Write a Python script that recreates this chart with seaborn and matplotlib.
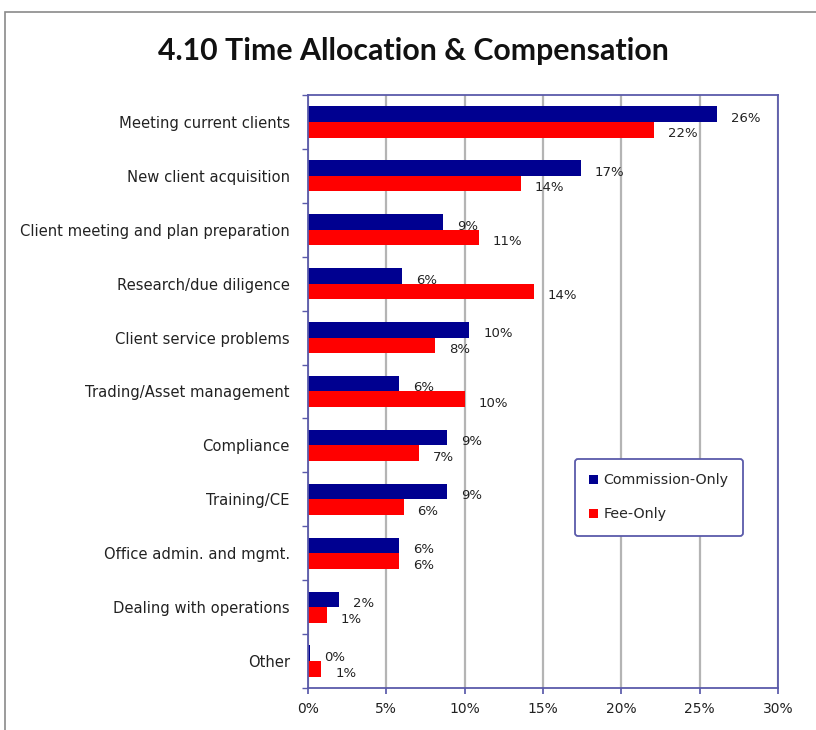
import numpy as np
import pandas as pd
import matplotlib
matplotlib.use("Agg")
import matplotlib.pyplot as plt
import seaborn as sns
from matplotlib.patches import Rectangle
from matplotlib.ticker import FixedLocator, PercentFormatter

# ── данные ──
categories = [
    "Meeting current clients",
    "New client acquisition",
    "Client meeting and plan preparation",
    "Research/due diligence",
    "Client service problems",
    "Trading/Asset management",
    "Compliance",
    "Training/CE",
    "Office admin. and mgmt.",
    "Dealing with operations",
    "Other",
]
commission_only = [26.1, 17.4, 8.6, 6.0, 10.3, 5.8, 8.9, 8.9, 5.8, 2.0, 0.15]
fee_only = [22.1, 13.6, 10.9, 14.4, 8.1, 10.0, 7.1, 6.1, 5.8, 1.2, 0.85]
series_names = ["Commission-Only", "Fee-Only"]
x_ticks = [0, 5, 10, 15, 20, 25, 30]

df = pd.DataFrame({
    "category": categories * 2,
    "value": commission_only + fee_only,
    "plan": [series_names[0]] * len(categories) + [series_names[1]] * len(categories),
})

NAVY = "#000090"
RED = "#ff0000"
FRAME = "#5a5aaa"

sns.set_theme(style="white")
plt.rcParams["font.family"] = ["DejaVu Sans"]

fig = plt.figure(figsize=(8.16, 7.30), dpi=100)
ax = fig.add_axes([0.3775, 0.0575, 0.5759, 0.8124])

sns.barplot(
    data=df, x="value", y="category", hue="plan", orient="h",
    palette={series_names[0]: NAVY, series_names[1]: RED},
    width=0.58, gap=0, saturation=1, linewidth=0, ax=ax, legend=True,
)

# подписи значений (чуть ниже центра столбца, как в Excel)
for cont in ax.containers:
    for b in cont:
        v = b.get_width()
        ax.annotate(f"{v:.0f}%", (v, b.get_y() + b.get_height() / 2),
                    xytext=(10, -3), textcoords="offset points",
                    ha="left", va="center", fontsize=9.5, color="#222222")

ax.set_xlim(0, 30)
ax.set_ylim(len(categories) - 0.5, -0.5)
ax.set_xticks(x_ticks)
ax.xaxis.set_major_formatter(PercentFormatter(decimals=0))
ax.grid(axis="x", color="#b4b4b4", lw=1.6)
ax.grid(axis="y", visible=False)
ax.set_axisbelow(True)
ax.set_xlabel("")
ax.set_ylabel("")

for s in ax.spines.values():
    s.set_visible(True)
    s.set_color(FRAME)
    s.set_linewidth(1.3)

ax.tick_params(axis="x", length=4, color=FRAME, labelsize=10, labelcolor="#222222", pad=6)
ax.tick_params(axis="y", which="major", length=0, labelsize=10.6, labelcolor="#222222", pad=13)
ax.yaxis.set_minor_locator(FixedLocator(np.arange(-0.5, len(categories), 1.0)))
ax.tick_params(axis="y", which="minor", length=4, color=FRAME, left=True)
ax.tick_params(axis="x", bottom=True)

leg = ax.legend(
    loc="upper left", bbox_to_anchor=(0.553, 0.398), frameon=True,
    fontsize=10.3, handlelength=0.6, handleheight=0.6, handletextpad=0.4,
    labelspacing=1.4, borderpad=1.0, fancybox=True,
)
leg.get_frame().set_edgecolor(FRAME)
leg.get_frame().set_linewidth(1.3)
leg.get_frame().set_alpha(1)

fig.text(0.507, 0.930, "4.10 Time Allocation & Compensation",
         ha="center", va="center", fontsize=21.8, fontweight="bold",
         family=["Lato", "DejaVu Sans"], color="#111111")

# внешняя рамка
fig.patches.append(Rectangle((5 / 816, -0.1), 1.2, 1.1 - 12 / 730,
                             transform=fig.transFigure, fill=False,
                             edgecolor="#8a8a8a", lw=1.2))

fig.savefig("out.png", dpi=100)
